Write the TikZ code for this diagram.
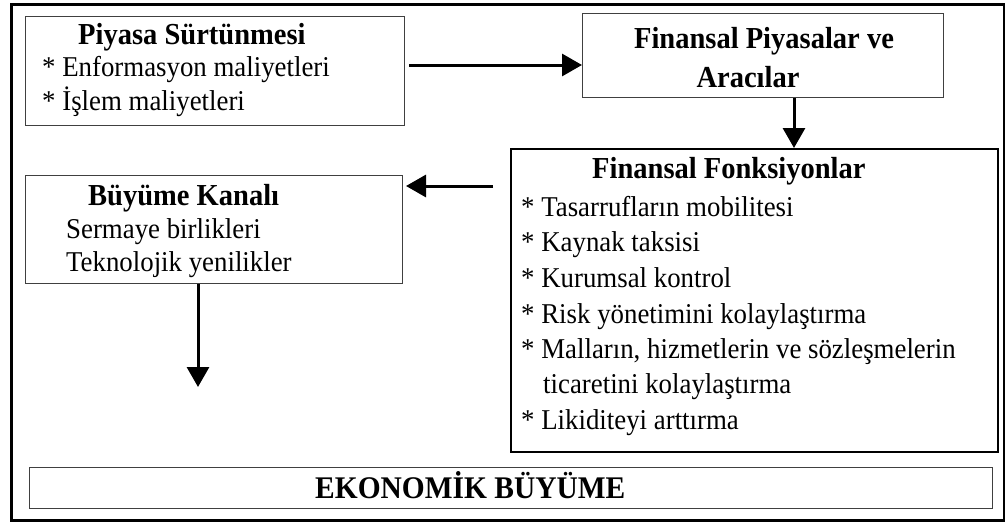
\documentclass[tikz,border=0pt]{standalone}
\usepackage{fontspec}
\setmainfont{Liberation Serif}[FakeStretch=0.935]
\usetikzlibrary{arrows.meta}
\begin{document}
\begin{tikzpicture}[x=1pt,y=-1pt,
  softbox/.style={draw=black!75, line width=1.4pt, fill=white, anchor=north west, inner sep=0pt},
  hardbox/.style={draw=black, line width=2pt, fill=white, anchor=north west, inner sep=0pt},
  txt/.style={inner sep=0pt, anchor=base west, font=\fontsize{28.7}{30}\selectfont},
  head/.style={inner sep=0pt, anchor=base west, font=\fontsize{30.5}{32}\selectfont\bfseries},
  arr/.style={line width=3pt, -{Triangle[length=20pt,width=22pt]}}]
\useasboundingbox (0,0) rectangle (1005,522);
\node[draw=black, line width=3pt, anchor=north west, inner sep=0pt, minimum width=993pt, minimum height=516pt] (frame) at (10,3) {};
% boxes
\node[softbox, minimum width=379pt, minimum height=109pt] (b1) at (25,16) {};
\node[softbox, minimum width=361pt, minimum height=84pt] (b2) at (582,13) {};
\node[hardbox, minimum width=487pt, minimum height=303pt] (b3) at (510,148) {};
\node[softbox, minimum width=377pt, minimum height=108pt] (b4) at (25,175) {};
\node[softbox, minimum width=963pt, minimum height=41pt] (b5) at (29,467) {};
% texts box 1
\node[head] (t1a) at (78,44) {Piyasa Sürtünmesi};
\node[txt] (t1b) at (42,76) {* Enformasyon maliyetleri};
\node[txt] (t1c) at (42,110) {* İşlem maliyetleri};
% box 2
\node[head, anchor=base] (t2a) at (764,48) {Finansal Piyasalar ve};
\node[head, anchor=base] (t2b) at (748,87) {Aracılar};
% box 3
\node[head] (t3a) at (592,178) {Finansal Fonksiyonlar};
\node[txt] (t3b) at (521,216) {* Tasarrufların mobilitesi};
\node[txt] (t3c) at (521,251) {* Kaynak taksisi};
\node[txt] (t3d) at (521,287) {* Kurumsal kontrol};
\node[txt] (t3e) at (521,323) {* Risk yönetimini kolaylaştırma};
\node[txt] (t3f) at (521,358) {* Malların, hizmetlerin ve sözleşmelerin};
\node[txt] (t3g) at (543,393) {ticaretini kolaylaştırma};
\node[txt] (t3h) at (521,429) {* Likiditeyi arttırma};
% box 4
\node[head] (t4a) at (88,205) {Büyüme Kanalı};
\node[txt] (t4b) at (66,238) {Sermaye birlikleri};
\node[txt] (t4c) at (66,271) {Teknolojik yenilikler};
% box 5
\node[head, font=\fontsize{31.5}{33}\selectfont\bfseries] (t5) at (315,498) {EKONOMİK BÜYÜME};
% connectors
\coordinate (a1s) at (409,65);
\coordinate (a2x) at (794,0);
\coordinate (a3s) at (493,186);
\coordinate (a3e) at (406,186);
\coordinate (a4x) at (198,0);
\coordinate (a4e) at (198,387);
\draw[arr] (a1s) -- (a1s -| b2.west);
\draw[arr] (b2.south -| a2x) -- (b3.north -| a2x);
\draw[arr] (a3s) -- (a3e);
\draw[arr] (b4.south -| a4x) -- (a4e);
\end{tikzpicture}
\end{document}
